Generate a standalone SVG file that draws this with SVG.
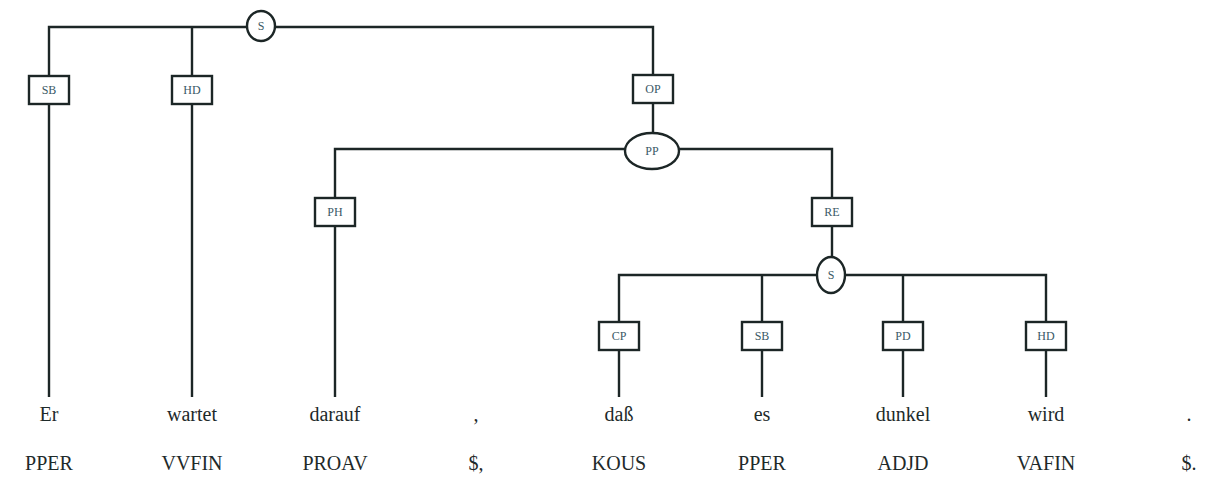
<svg xmlns="http://www.w3.org/2000/svg" width="1210" height="480" viewBox="0 0 1210 480">
<style>
.ln{stroke:#1c2626;stroke-width:2.4;fill:none}
.bx{stroke:#1c2626;stroke-width:2.4;fill:#fff}
.lb{font-size:12px;fill:#3a5866;text-anchor:middle}
.w{font-size:20px;fill:#1e2a2a;text-anchor:middle}
</style>
<rect width="1210" height="480" fill="#fff"/>
<g id="connectors">
<path class="ln" d="M49,397V27H653V133M192,27V397"/>
<path class="ln" d="M335,397V149H832V256"/>
<path class="ln" d="M619,397V275H1046V397M762,275V397M903,275V397"/>
</g>
<g font-family="'Liberation Serif','Times New Roman','DejaVu Serif',serif">
<g id="n_S1"><ellipse class="bx" cx="261" cy="26" rx="14" ry="15"/><text class="lb" x="261" y="30">S</text></g>
<g id="n_SB1"><rect class="bx" x="29" y="76" width="40" height="28"/><text class="lb" x="49" y="94">SB</text></g>
<g id="n_HD1"><rect class="bx" x="172" y="76" width="40" height="28"/><text class="lb" x="192" y="94">HD</text></g>
<g id="n_OP"><rect class="bx" x="633" y="75" width="40" height="28"/><text class="lb" x="653" y="93">OP</text></g>
<g id="n_PP"><ellipse class="bx" cx="652" cy="151" rx="27" ry="18"/><text class="lb" x="652" y="155">PP</text></g>
<g id="n_PH"><rect class="bx" x="315" y="198" width="40" height="28"/><text class="lb" x="335" y="216">PH</text></g>
<g id="n_RE"><rect class="bx" x="812" y="198" width="40" height="28"/><text class="lb" x="832" y="216">RE</text></g>
<g id="n_S2"><ellipse class="bx" cx="831" cy="275" rx="14" ry="18"/><text class="lb" x="831" y="279">S</text></g>
<g id="n_CP"><rect class="bx" x="599" y="322" width="40" height="28"/><text class="lb" x="619" y="340">CP</text></g>
<g id="n_SB2"><rect class="bx" x="742" y="322" width="40" height="28"/><text class="lb" x="762" y="340">SB</text></g>
<g id="n_PD"><rect class="bx" x="883" y="322" width="40" height="28"/><text class="lb" x="903" y="340">PD</text></g>
<g id="n_HD2"><rect class="bx" x="1026" y="322" width="40" height="28"/><text class="lb" x="1046" y="340">HD</text></g>
<g id="tokens">
<text class="w" x="49" y="421">Er</text>
<text class="w" x="192" y="421">wartet</text>
<text class="w" x="335" y="421">darauf</text>
<text class="w" x="476" y="421">,</text>
<text class="w" x="619" y="421">daß</text>
<text class="w" x="762" y="421">es</text>
<text class="w" x="903" y="421">dunkel</text>
<text class="w" x="1046" y="421">wird</text>
<text class="w" x="1189" y="421">.</text>
</g>
<g id="tags">
<text class="w" x="49" y="470">PPER</text>
<text class="w" x="192" y="470">VVFIN</text>
<text class="w" x="335" y="470">PROAV</text>
<text class="w" x="476" y="470">$,</text>
<text class="w" x="619" y="470">KOUS</text>
<text class="w" x="762" y="470">PPER</text>
<text class="w" x="903" y="470">ADJD</text>
<text class="w" x="1046" y="470">VAFIN</text>
<text class="w" x="1189" y="470">$.</text>
</g>
</g>
</svg>
